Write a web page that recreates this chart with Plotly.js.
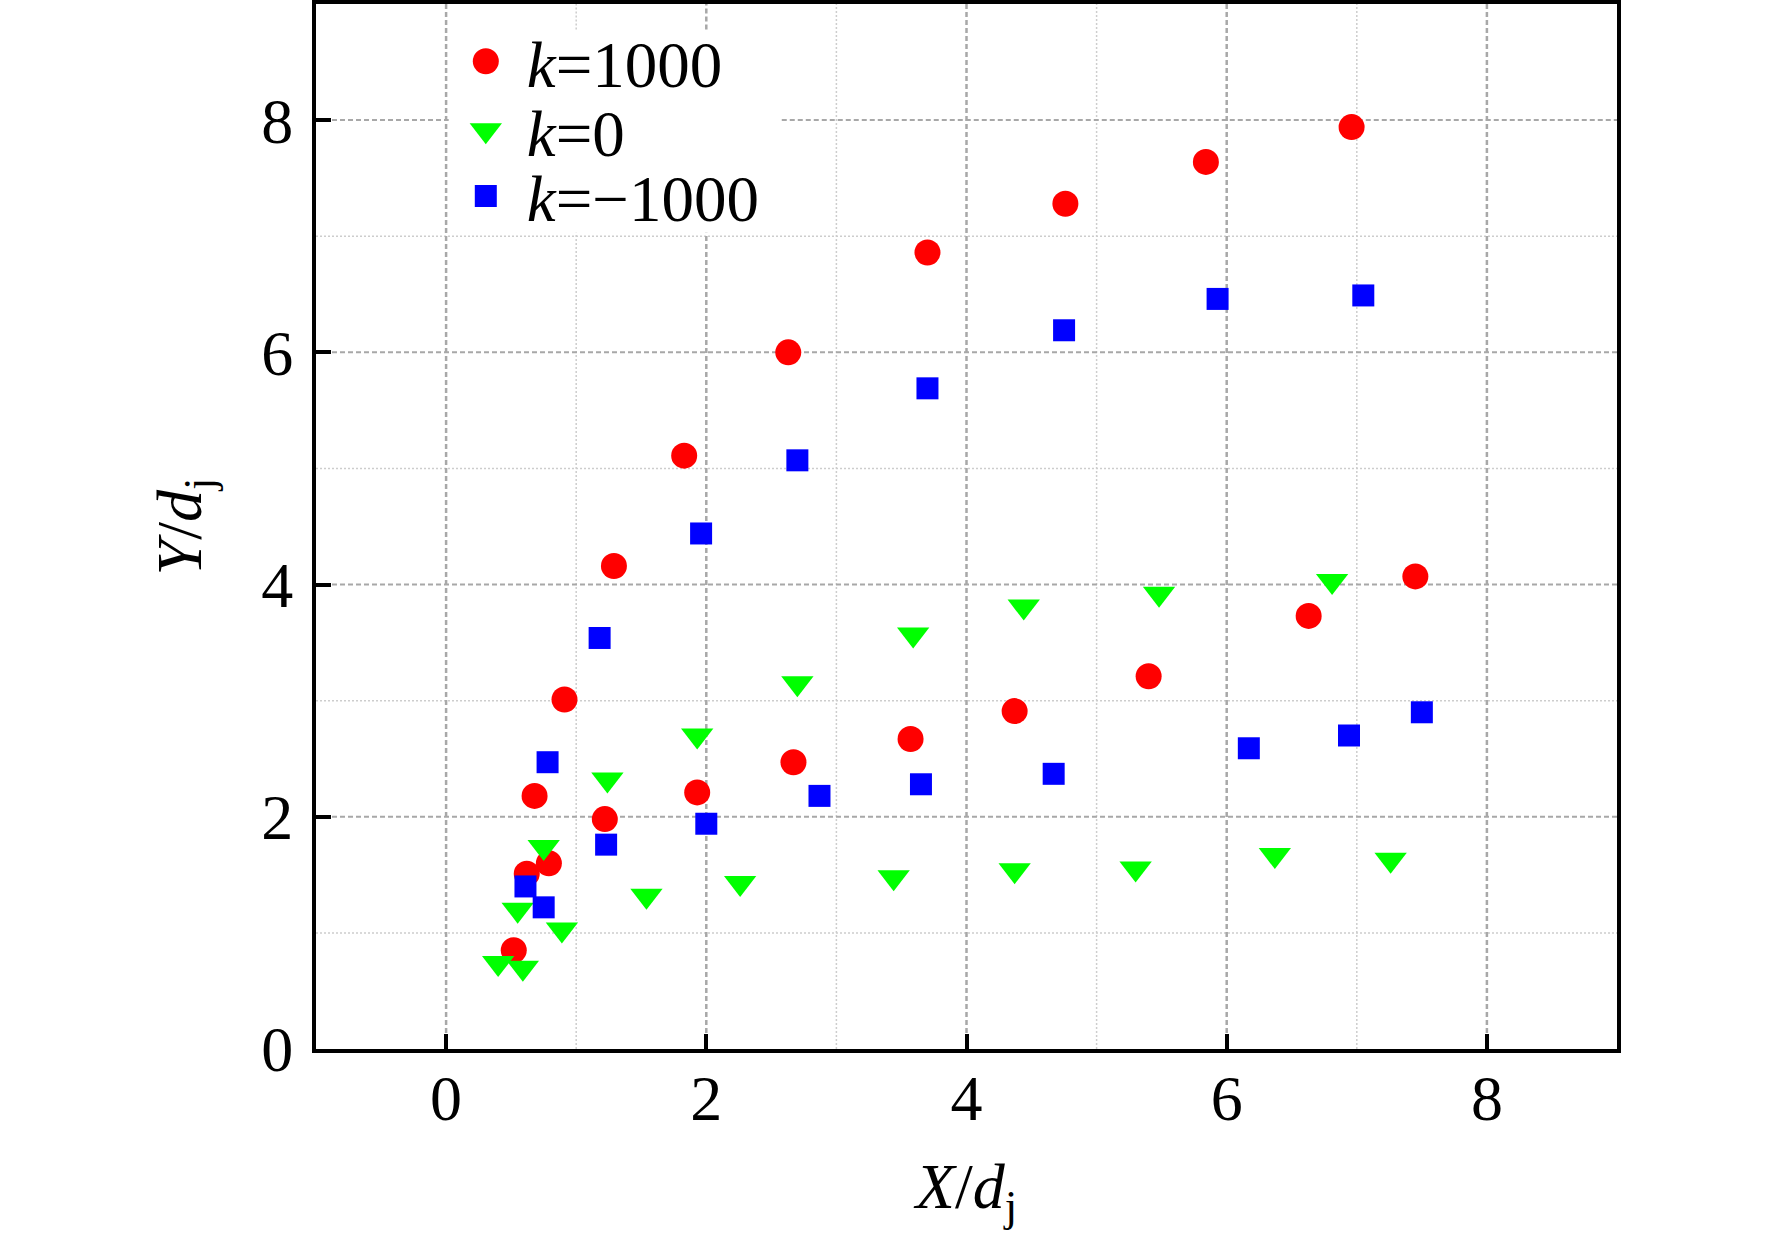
<!DOCTYPE html>
<html>
<head>
<meta charset="utf-8">
<script src="https://cdn.plot.ly/plotly-3.0.1.min.js"></script>
<style>
html,body{margin:0;padding:0;background:#ffffff;}
#chart{width:1772px;height:1241px;}
</style>
</head>
<body>
<div id="chart"></div>
<script>
// ---- data ----
const seriesNames = ['<i>k</i>=1000', '<i>k</i>=0', '<i>k</i>=\u22121000'];

const kPos_x = [0.52, 0.62, 0.79, 0.68, 0.91, 1.29, 1.83, 2.63, 3.70, 4.76, 5.84, 6.96,
                1.22, 1.93, 2.67, 3.57, 4.37, 5.40, 6.63, 7.45];
const kPos_y = [0.85, 1.51, 1.60, 2.18, 3.01, 4.16, 5.11, 6.00, 6.86, 7.28, 7.64, 7.94,
                1.98, 2.21, 2.47, 2.67, 2.91, 3.21, 3.73, 4.07];

const kZero_x = [0.40, 0.59, 0.55, 0.75, 0.89, 1.24, 1.54, 1.93, 2.26, 2.70, 3.44, 3.59,
                 4.37, 4.44, 5.30, 5.48, 6.37, 6.81, 7.26];
const kZero_y = [0.74, 0.70, 1.20, 1.74, 1.03, 2.32, 1.32, 2.70, 1.43, 3.15, 1.48, 3.57,
                 1.54, 3.81, 1.555, 3.92, 1.67, 4.03, 1.63];

const kNeg_x = [0.61, 0.75, 0.78, 1.23, 1.18, 1.96, 2.00, 2.70, 2.87, 3.70, 3.65, 4.75,
                4.67, 5.93, 6.17, 7.05, 6.94, 7.50];
const kNeg_y = [1.40, 1.22, 2.47, 1.76, 3.54, 4.44, 1.94, 5.07, 2.18, 5.69, 2.28, 6.19,
                2.37, 6.46, 2.59, 6.49, 2.70, 2.90];

const xTickVals = [0, 2, 4, 6, 8];
const yTickVals = [0, 2, 4, 6, 8];
const xMajorGrid = [0, 2, 4, 6, 8];
const xMinorGrid = [1, 3, 5, 7];
const yMajorGrid = [2, 4, 6, 8];
const yMinorGrid = [1, 3, 5, 7];
// area kept clear of grid lines behind the legend (data units)
const legendBox = {x0: 0.02, x1: 2.58, y0: 7.03, y1: 8.78};
const X_RANGE = [-1, 9];
const Y_RANGE = [0, 9];

// ---- styling ----
const FONT = "'Liberation Serif', 'Times New Roman', Times, serif";
const majorLine = {color: '#a8a8a8', width: 2, dash: '5px,3px'};
const majorLineV = {color: '#a8a8a8', width: 2.5, dash: '5px,3px'};
const minorLine = {color: '#cdcdcd', width: 1.5, dash: '2px,2px'};

const traces = [
  {x: kPos_x, y: kPos_y, name: seriesNames[0], type: 'scatter', mode: 'markers',
   marker: {symbol: 'circle', size: 26, color: '#ff0000'}, legend: 'legend'},
  {x: kZero_x, y: kZero_y, name: seriesNames[1], type: 'scatter', mode: 'markers',
   marker: {symbol: 'triangle-down', size: 28, color: '#00ff00'}, legend: 'legend2'},
  {x: kNeg_x, y: kNeg_y, name: seriesNames[2], type: 'scatter', mode: 'markers',
   marker: {symbol: 'square', size: 22, color: '#0000ff'}, legend: 'legend3'}
];

const shapes = [];
function seg(x0, x1, y0, y1, line) {
  shapes.push({type: 'line', xref: 'x', yref: 'y', x0: x0, x1: x1, y0: y0, y1: y1,
               layer: 'below', line: line});
}
function vGrid(v, line) {
  if (v > legendBox.x0 && v < legendBox.x1) {
    seg(v, v, Y_RANGE[0], legendBox.y0, line);
    seg(v, v, legendBox.y1, Y_RANGE[1], line);
  } else seg(v, v, Y_RANGE[0], Y_RANGE[1], line);
}
function hGrid(v, line) {
  if (v > legendBox.y0 && v < legendBox.y1) {
    seg(X_RANGE[0], legendBox.x0, v, v, line);
    seg(legendBox.x1, X_RANGE[1], v, v, line);
  } else seg(X_RANGE[0], X_RANGE[1], v, v, line);
}
xMinorGrid.forEach(v => vGrid(v, minorLine));
yMinorGrid.forEach(v => hGrid(v, minorLine));
xMajorGrid.forEach(v => vGrid(v, majorLineV));
yMajorGrid.forEach(v => hGrid(v, majorLine));

function legendAt(yPaper) {
  return {
    x: 0.099, xanchor: 'left', y: yPaper, yanchor: 'middle',
    bgcolor: 'rgba(0,0,0,0)', borderwidth: 0, itemwidth: 72,
    font: {family: FONT, size: 65, color: '#000'}
  };
}

const layout = {
  width: 1772, height: 1241,
  margin: {l: 316, r: 155, t: 4, b: 192, pad: 0},
  paper_bgcolor: '#ffffff', plot_bgcolor: '#ffffff',
  font: {family: FONT, size: 64, color: '#000'},
  showlegend: true,
  legend: legendAt(0.9450),
  legend2: legendAt(0.8790),
  legend3: legendAt(0.8160),
  xaxis: {
    range: X_RANGE, tickvals: xTickVals, ticktext: xTickVals.map(String),
    ticks: 'inside', ticklen: 15, tickwidth: 4, tickcolor: '#000',
    showline: true, linecolor: '#000', linewidth: 4, mirror: true,
    showgrid: false, zeroline: false, ticklabelstandoff: -10,
    tickfont: {family: FONT, size: 64, color: '#000'},
    title: {text: '<i>X</i>/<i>d</i><sub>j</sub>', font: {family: FONT, size: 64, color: '#000'}, standoff: 31}
  },
  yaxis: {
    range: Y_RANGE, tickvals: yTickVals, ticktext: yTickVals.map(String),
    ticks: 'inside', ticklen: 15, tickwidth: 4, tickcolor: '#000',
    showline: true, linecolor: '#000', linewidth: 4, mirror: true,
    showgrid: false, zeroline: false, ticklabelstandoff: 6,
    tickfont: {family: FONT, size: 64, color: '#000'},
    title: {text: '<i>Y</i>/<i>d</i><sub>j</sub>', font: {family: FONT, size: 64, color: '#000'}, standoff: 40}
  },
  shapes: shapes
};

Plotly.newPlot('chart', traces, layout, {displayModeBar: false, staticPlot: true}).then(function (gd) {
  // the legend caps symbol size at 16px; scale each legend symbol up to its trace's marker size
  gd.querySelectorAll('.legendpoints path.scatterpts').forEach(function (p) {
    var d = p.__data__;
    var tr = d && (d.trace || (d[0] && d[0].trace) || (d.mrc !== undefined ? null : null));
    var size = 16;
    var grp = p.closest('.traces');
    if (grp && grp.__data__ && grp.__data__[0] && grp.__data__[0].trace) {
      size = grp.__data__[0].trace.marker.size;
    } else if (tr && tr.marker) {
      size = tr.marker.size;
    }
    var s = size / 16;
    var t = p.getAttribute('transform') || '';
    p.setAttribute('transform', t + ' scale(' + s + ')');
  });
});
</script>
</body>
</html>
